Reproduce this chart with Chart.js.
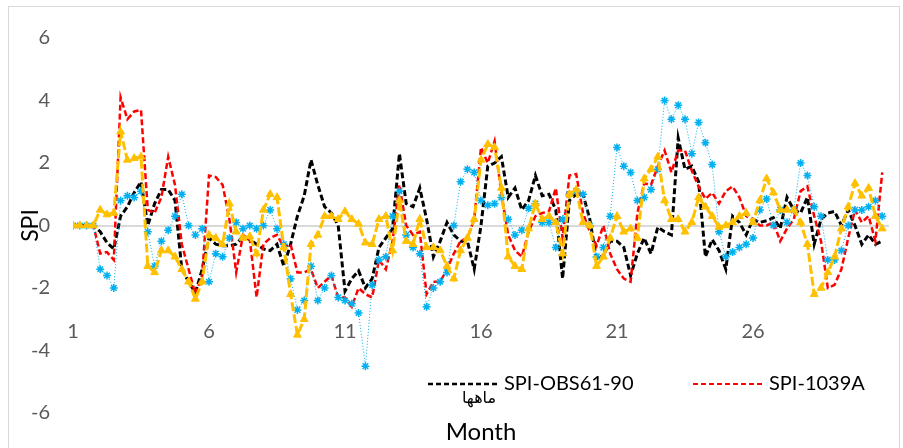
<!DOCTYPE html>
<html>
<head>
<meta charset="utf-8">
<script src="https://cdn.jsdelivr.net/npm/chart.js@4.4.1/dist/chart.umd.min.js"></script>
<style>
  html, body { margin: 0; padding: 0; background: #fff; }
  #wrap { width: 903px; height: 448px; }
</style>
</head>
<body>
<div id="wrap"><canvas id="spiChart" width="903" height="448"></canvas></div>
<script>
// SPI series at four samples per month step
const spiObs6190 = [
    0, 0, 0, 0, -0.2, -0.55, -0.75, 0.3, 0.6, 1.05, 1.4, 0.0, 0.7, 1.15, 1.15, 0.8, -1.4, -1.8, -2.15, -1.4,
    -0.4, -0.6, -0.65, -0.65, -0.6, -0.35, -0.45, -0.6, -0.75, -0.8, -0.6, -1.3, -0.6, 0.3, 0.95, 2.1, 1.3, 0.6, 0.4, 0.0,
    -2.1, -1.7, -1.45, -2.0, -1.7, -0.7, -0.4, -0.1, 2.3, 0.7, 0.6, 1.2, 0.2, -1.0, -0.5, 0.1, -0.3, -0.5, -0.5, -1.4,
    0.0, 1.9, 2.0, 2.2, 0.9, 1.2, 0.5, 0.8, 1.6, 0.95, 1.0, 0.5, -1.7, 0.8, 1.0, 1.0, 0.2, -1.1, -0.95, -0.5,
    -0.5, -0.7, -1.6, -0.9, -0.4, -0.9, -0.05, -0.2, -0.3, 2.8, 1.8, 1.9, 1.4, -1.0, -0.45, -0.8, -1.4, 0.3, 0.1, -0.3,
    0.2, 0.1, 0.15, 0.25, -0.1, 0.9, 0.5, 0.4, 0.9, -0.6, 0.2, 0.4, 0.45, 0.0, 0.5, 0.0, -0.6, -0.3, -0.6, -0.5
];
const spi1039A = [
    0, 0, 0, 0, -0.9, -0.85, -1.1, 4.1, 3.4, 3.65, 3.7, 0.5, 0.4, 0.9, 2.2, 1.3, -0.6, -1.4, -2.2, -1.6,
    1.6, 1.55, 1.3, 0.2, -1.5, -0.3, -0.45, -2.3, -0.6, -0.4, -0.3, -0.7, -0.6, -1.5, -1.5, -1.4, -2.0, -1.8, -1.6, -2.3,
    -2.3, -2.6, -2.0, -2.2, -2.3, -1.1, -1.4, -0.5, 1.3, 0.0, -0.3, -0.2, -2.2, -1.8, -1.8, -1.4, -0.9, -0.5, -0.4, 0.2,
    2.5, 2.0, 2.7, 1.0, -0.3, -0.8, -1.0, -0.2, 0.3, 0.4, 0.45, 1.2, -0.4, 1.6, 1.65, 0.4, -0.2, -0.65, 0.0, -0.9,
    -1.4, -1.7, -1.8, 0.4, 1.35, 1.3, 1.9, 2.4, 1.7, 2.4, 2.4, 1.75, 1.25, 0.85, 1.05, 0.7, 1.1, 1.25, 0.9, 0.3,
    0.2, 0.0, 0.0, 0.1, -0.5, -0.1, 0.2, 1.1, 1.25, 0.3, -0.5, -2.0, -1.9, -1.4, -0.4, 0.5, 0.1, 0.3, -0.5, 1.7
];
const spiStarSeries = [
    0, 0, 0, 0, -1.4, -1.6, -2.0, 0.8, 0.95, 0.9, 1.1, -0.2, -1.3, -0.5, -0.15, 0.3, 1.0, 0.0, -0.3, -0.1,
    -1.8, -0.9, -1.0, -0.4, 0.1, -0.1, 0.0, -0.1, 0.0, 0.5, -0.1, -0.6, -1.7, -2.7, -2.4, -1.3, -2.4, -2.0, -1.6, -2.3,
    -2.4, -2.5, -2.8, -4.5, -1.9, -1.1, -1.0, 0.3, 1.1, -0.3, -0.7, -0.9, -2.6, -2.0, -1.8, -1.5, 0.0, 1.4, 1.8, 1.7,
    0.8, 0.65, 0.7, 0.9, 0.2, -0.3, -0.15, 0.55, 0.7, 0.1, 0.1, -0.7, 0.2, 1.0, 1.1, 1.0, 0.0, -1.0, -0.7, 0.3,
    2.5, 1.9, 1.7, 0.8, 0.9, 1.15, 1.8, 4.0, 3.4, 3.85, 3.4, 2.3, 3.3, 2.65, 1.95, -0.2, -1.0, -0.85, -0.7, -0.6,
    -0.4, 0.5, 0.85, 0.0, 0.5, 0.1, 0.5, 2.0, 1.6, 0.6, 0.3, -1.1, -1.1, -0.8, 0.0, 0.5, 0.5, 0.6, 0.8, 0.3
];
const spiTriangleSeries = [
    0, 0, 0, 0, 0.5, 0.35, 0.4, 3.0, 2.1, 2.15, 2.2, -1.3, -1.5, -0.8, -0.8, -1.0, -1.4, -1.8, -2.35, -1.8,
    -0.3, -0.4, -0.6, 0.7, -0.2, -0.4, -0.35, -0.9, 0.5, 1.0, 0.9, -0.7, -2.2, -3.5, -3.0, -0.6, -0.3, 0.3, 0.3, 0.2,
    0.45, 0.2, 0.05, -0.55, -0.6, 0.2, 0.3, -0.8, 0.8, -0.5, -0.6, 0.2, -0.7, -0.7, -0.8, -1.3, -1.7, -0.8, -0.4, 0.2,
    2.1, 2.6, 2.5, 1.2, -1.0, -1.3, -1.4, -0.1, 0.7, 0.2, 0.3, 0.1, -0.9, 1.0, 1.15, 0.1, 0.0, -1.3, -1.0, -0.4,
    0.3, -0.2, -0.1, -0.4, 1.5, 1.8, 2.2, 0.8, 0.2, 0.2, -0.2, 0.1, 0.9, 0.6, 0.3, -0.05, 0.0, 0.1, 0.3, 0.4,
    0.1, 0.8, 1.5, 1.05, 0.5, 0.5, 0.5, 0.1, -0.6, -2.2, -2.0, -1.5, -1.0, -0.1, 0.6, 1.35, 0.95, 1.2, 0.3, -0.1
];

const xTickLabels = [1, 6, 11, 16, 21, 26];
const yTickValues = [-6, -4, -2, 0, 2, 4, 6];
const legendNames = ['SPI-OBS61-90', 'SPI-1039A'];
const xTitle = 'Month';
const xTitleFa = 'ماهها';
const yTitle = 'SPI';

// position on the month axis for each sample
const months = spiObs6190.map((_, i) => 1 + i / 4);
const toPoints = arr => arr.map((v, i) => ({ x: months[i], y: v }));

const font = 'Lato';

// border, custom legend and the two bottom titles
const chartDecor = {
    id: 'chartDecor',
    beforeDraw(chart) {
        const ctx = chart.ctx;
        ctx.save();
        ctx.fillStyle = '#fff';
        ctx.fillRect(0, 0, chart.width, chart.height);
        ctx.strokeStyle = '#d9d9d9';
        ctx.lineWidth = 1;
        ctx.strokeRect(8.5, 6.5, 891, 460);
        ctx.restore();
    },
    afterDraw(chart) {
        const ctx = chart.ctx;
        const area = chart.chartArea;
        const mid = (area.left + area.right) / 2;
        ctx.save();
        const items = [
            { x: 428, color: '#000', width: 2.5, dash: [5, 3] },
            { x: 693, color: '#ff0000', width: 2, dash: [5, 3] }
        ];
        ctx.font = '20px ' + font;
        ctx.textBaseline = 'middle';
        items.forEach((it, i) => {
            ctx.strokeStyle = it.color;
            ctx.lineWidth = it.width;
            ctx.setLineDash(it.dash);
            ctx.beginPath();
            ctx.moveTo(it.x, 384);
            ctx.lineTo(it.x + 69, 384);
            ctx.stroke();
            ctx.setLineDash([]);
            ctx.fillStyle = '#000';
            ctx.textAlign = 'left';
            ctx.fillText(legendNames[i], it.x + 76, 384);
        });
        ctx.textAlign = 'center';
        ctx.font = '16px "DejaVu Sans"';
        ctx.direction = 'rtl';
        ctx.fillText(xTitleFa, mid - 2, 399);
        ctx.direction = 'ltr';
        ctx.font = '24px ' + font;
        ctx.fillText(xTitle, mid, 432);
        ctx.restore();
    }
};

new Chart(document.getElementById('spiChart'), {
    type: 'line',
    data: {
        datasets: [
            {
                label: legendNames[0],
                data: toPoints(spiObs6190),
                borderColor: '#000000',
                borderWidth: 3,
                borderDash: [6, 3],
                pointRadius: 0,
                order: 3
            },
            {
                label: legendNames[1],
                data: toPoints(spi1039A),
                borderColor: '#ff0000',
                borderWidth: 2.5,
                borderDash: [6, 3],
                pointRadius: 0,
                order: 2
            },
            {
                label: 'SPI-B',
                data: toPoints(spiStarSeries),
                borderColor: '#00b0f0',
                borderWidth: 1,
                borderDash: [1, 2],
                pointStyle: 'star',
                pointRadius: 4,
                pointBorderColor: '#00b0f0',
                pointBorderWidth: 1.5,
                order: 1
            },
            {
                label: 'SPI-C',
                data: toPoints(spiTriangleSeries),
                borderColor: '#ffc000',
                borderWidth: 3,
                borderDash: [9, 3],
                pointStyle: 'triangle',
                pointRadius: 4.5,
                pointBackgroundColor: '#ffc000',
                pointBorderColor: '#ffc000',
                pointBorderWidth: 1,
                order: 0
            }
        ]
    },
    options: {
        responsive: false,
        animation: false,
        layout: { padding: { top: 38, bottom: 30, left: 0, right: 14 } },
        plugins: {
            legend: { display: false },
            tooltip: { enabled: false }
        },
        scales: {
            x: {
                type: 'linear',
                min: 1,
                max: 31,
                position: { y: -2.76 },
                grid: { display: false },
                border: { display: false },
                afterBuildTicks: scale => { scale.ticks = xTickLabels.map(v => ({ value: v })); },
                ticks: {
                    padding: 0,
                    autoSkip: false,
                    maxRotation: 0,
                    color: '#595959',
                    font: { family: font, size: 20 }
                }
            },
            y: {
                min: -6,
                max: 6,
                afterBuildTicks: scale => { scale.ticks = yTickValues.map(v => ({ value: v })); },
                afterFit: scale => { scale.width = 73; },
                grid: {
                    drawTicks: false,
                    lineWidth: 2,
                    color: c => (c.tick && c.tick.value === 0 ? '#d9d9d9' : 'rgba(0,0,0,0)')
                },
                border: { display: false },
                ticks: {
                    padding: 23,
                    color: '#595959',
                    font: { family: font, size: 20 }
                },
                title: {
                    display: true,
                    text: yTitle,
                    color: '#000',
                    font: { family: font, size: 23 },
                    padding: { top: 17, bottom: 0 }
                }
            }
        }
    },
    plugins: [chartDecor]
});
</script>
</body>
</html>
